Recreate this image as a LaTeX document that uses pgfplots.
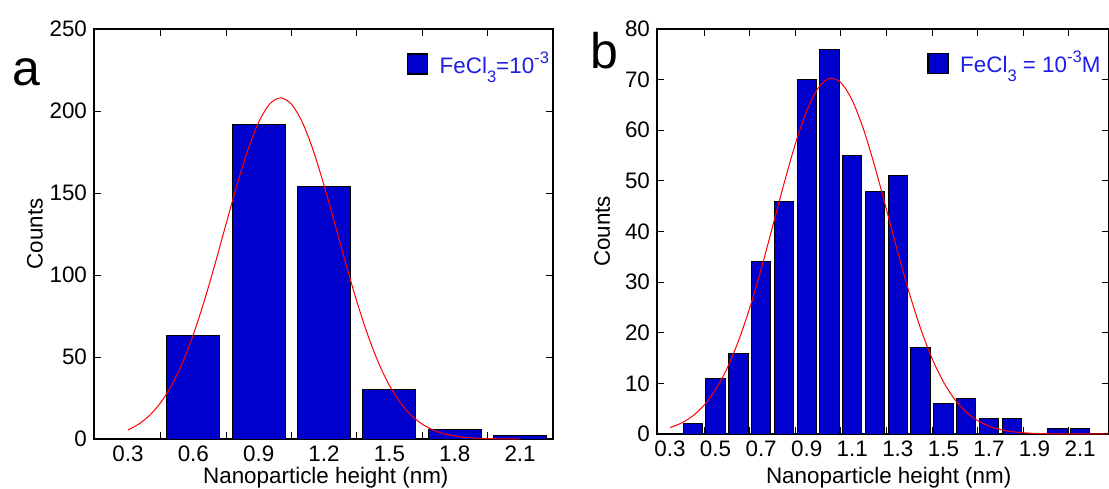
\documentclass[border=0pt]{standalone}
\usepackage{fontspec}
\setmainfont{Liberation Sans}
\usepackage{pgfplots}
\pgfplotsset{compat=1.18}
\definecolor{barblue}{RGB}{0,0,205}
\definecolor{legblue}{RGB}{30,30,230}
\newcommand{\lsub}[1]{\raisebox{-4.5pt}{\fontsize{8.3}{9}\selectfont #1}}
\newcommand{\lsup}[1]{\raisebox{5pt}{\fontsize{8.3}{9}\selectfont #1}}
\begin{document}
\begin{tikzpicture}
\useasboundingbox (0,0) rectangle (554.5pt,244pt);
\pgfplotsset{
 every axis/.append style={
  scale only axis,
  axis line style={black, line width=0.6pt},
  tick style={black, line width=0.5pt},
  major tick length=3.5pt,
  tick label style={font=\fontsize{11.2}{13}\selectfont},
  /pgf/number format/assume math mode=true,
  ymin=0,
  legend style={draw=none, fill=none, text=legblue, font=\fontsize{11.2}{13}\selectfont, inner sep=0pt},
 }
}
% ---------------- panel a ----------------
\begin{axis}[at={(47pt,24.5pt)}, anchor=south west, width=229.5pt, height=205pt,
  xmin=0.144, xmax=2.251, ymax=250, ytick={0,50,100,150,200,250},
  xtick={0.45,0.75,1.05,1.35,1.65,1.95}, xticklabels={},
  extra x ticks={0.3,0.6,0.9,1.2,1.5,1.8,2.1},
  extra x tick labels={0.3,0.6,0.9,1.2,1.5,1.8,2.1},
  extra x tick style={major tick length=0pt},
  xlabel={Nanoparticle height (nm)}, ylabel={Counts},
  every axis x label/.style={at={(axis description cs:0.505,0)}, anchor=base, yshift=-22pt, font=\fontsize{11.2}{13}\selectfont},
  every axis y label/.style={at={(axis description cs:-0.1285,0.5)}, rotate=90, anchor=center, font=\fontsize{11.2}{13}\selectfont},
  legend style={at={(axis description cs:0.68,0.956)}, anchor=north west}]
\addplot[ybar, bar width=0.243, fill=barblue, draw=black, line width=0.5pt, forget plot]
 coordinates {(0.6,63) (0.9,192) (1.2,154) (1.5,30) (1.8,6) (2.1,2)};
\addplot[red, line width=0.5pt, smooth, forget plot] coordinates {
(0.30,5.55) (0.35,9.14) (0.40,14.5) (0.45,22.2) (0.50,32.7) (0.55,46.5) (0.60,63.7)
(0.65,84.1) (0.70,106.9) (0.75,131.0) (0.80,154.7) (0.85,176.1) (0.90,193.2) (0.95,204.2)
(1.00,208) (1.05,204.2) (1.10,193.2) (1.15,176.1) (1.20,154.7) (1.25,131.0) (1.30,106.9)
(1.35,84.1) (1.40,63.7) (1.45,46.5) (1.50,32.7) (1.55,22.2) (1.60,14.5) (1.65,9.14)
(1.70,5.55) (1.75,3.24) (1.80,1.83) (1.85,0.99) (1.90,0.52) (1.95,0.26) (2.00,0.13)
(2.05,0.06) (2.10,0.03)};
\addlegendimage{legend image code/.code={\draw[fill=barblue,draw=black,line width=0.8pt] (0pt,-5pt) rectangle (10pt,5pt); \path (14pt,0pt);}}
\addlegendentry{FeCl\lsub{3}=10\lsup{-3}}
\end{axis}
% ---------------- panel b ----------------
\begin{axis}[at={(328.5pt,27pt)}, anchor=south west, width=225.8pt, height=202.5pt,
  xmin=0.243, xmax=2.225, ymax=80, ytick={0,10,20,30,40,50,60,70,80},
  xtick={0.45,0.65,0.85,1.05,1.25,1.45,1.65,1.85,2.05}, xticklabels={},
  extra x ticks={0.3,0.5,0.7,0.9,1.1,1.3,1.5,1.7,1.9,2.1},
  extra x tick labels={0.3,0.5,0.7,0.9,1.1,1.3,1.5,1.7,1.9,2.1},
  extra x tick style={major tick length=0pt},
  xlabel={Nanoparticle height (nm)}, ylabel={Counts},
  every axis x label/.style={at={(axis description cs:0.513,0)}, anchor=base, yshift=-24.5pt, font=\fontsize{11.2}{13}\selectfont},
  every axis y label/.style={at={(axis description cs:-0.1217,0.5)}, rotate=90, anchor=center, font=\fontsize{11.2}{13}\selectfont},
  legend style={at={(axis description cs:0.597,0.956)}, anchor=north west}]
\addplot[ybar, bar width=0.085, fill=barblue, draw=black, line width=0.5pt, forget plot]
 coordinates {(0.4,2) (0.5,11) (0.6,16) (0.7,34) (0.8,46) (0.9,70) (1.0,76) (1.1,55)
 (1.2,48) (1.3,51) (1.4,17) (1.5,6) (1.6,7) (1.7,3) (1.8,3) (2.0,1) (2.1,1)};
\addplot[red, line width=0.5pt, smooth, forget plot] coordinates {
(0.30,1.25) (0.35,2.16) (0.40,3.58) (0.45,5.72) (0.50,8.78) (0.55,12.93) (0.60,18.32)
(0.65,24.92) (0.70,32.58) (0.75,40.93) (0.80,49.40) (0.85,57.28) (0.90,63.81) (0.95,68.30)
(1.00,70.24) (1.05,69.41) (1.10,65.89) (1.15,60.10) (1.20,52.67) (1.25,44.34) (1.30,35.87)
(1.35,27.88) (1.40,20.82) (1.45,14.94) (1.50,10.30) (1.55,6.82) (1.60,4.34) (1.65,2.65)
(1.70,1.56) (1.75,0.88) (1.80,0.48) (1.85,0.25) (1.90,0.12) (1.95,0.06) (2.00,0.03)
(2.10,0.01) (2.22,0)};
\addlegendimage{legend image code/.code={\draw[fill=barblue,draw=black,line width=0.8pt] (0pt,-5pt) rectangle (10pt,5pt); \path (14pt,0pt);}}
\addlegendentry{FeCl\lsub{3} = 10\lsup{-3}M}
\end{axis}
\node[anchor=base west, font=\fontsize{25}{30}\selectfont, inner sep=0pt] at (6.25pt,201pt) {a};
\node[anchor=base west, font=\fontsize{25}{30}\selectfont, inner sep=0pt] at (295pt,209.5pt) {b};
\end{tikzpicture}
\end{document}
